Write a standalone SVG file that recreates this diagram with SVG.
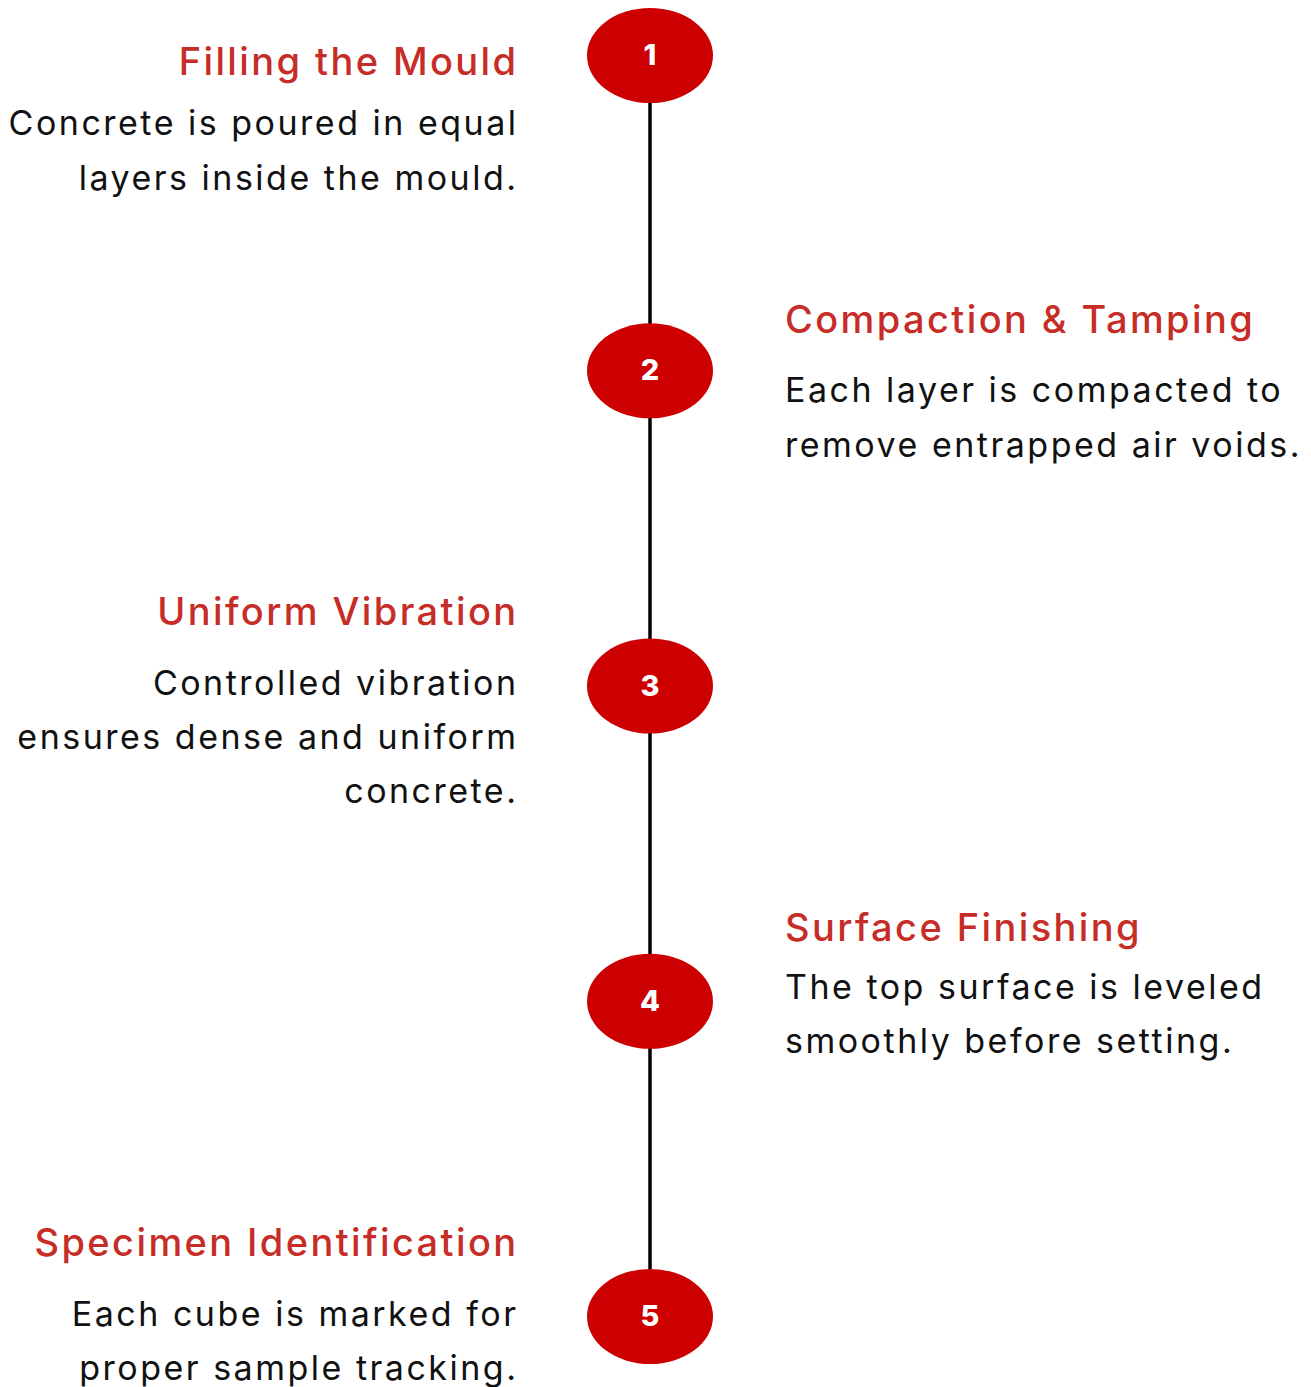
<svg xmlns="http://www.w3.org/2000/svg" width="1311" height="1387" viewBox="0 0 1311 1387">
<style>
.title{font-family:Inter,"Liberation Sans",sans-serif;font-size:38px;font-weight:500;fill:#c62d27;letter-spacing:2.4px}
.body{font-family:Inter,"Liberation Sans",sans-serif;font-size:34px;font-weight:400;fill:#111;letter-spacing:2.5px}
.l{text-anchor:end}
.num{font-family:Inter,"Liberation Sans",sans-serif;font-size:29px;font-weight:800;fill:#fff;text-anchor:middle}
.dot{fill:#cc0000}
</style>
<rect width="1311" height="1387" fill="#fff"/>
<g id="connectors">
<line x1="650" y1="100" x2="650" y2="1272" stroke="#000" stroke-width="3.5"/>
</g>
<g id="step1">
<ellipse class="dot" cx="650" cy="55.5" rx="63" ry="47.5"/>
<text class="num" x="650" y="65">1</text>
<text class="title l" x="518.5" y="75">Filling the Mould</text>
<text class="body l" x="518.5" y="135">Concrete is poured in equal</text>
<text class="body l" x="518.5" y="190">layers inside the mould.</text>
</g>
<g id="step2">
<ellipse class="dot" cx="650" cy="370.8" rx="63" ry="47.5"/>
<text class="num" x="650" y="380">2</text>
<text class="title" x="785" y="333">Compaction &amp; Tamping</text>
<text class="body" x="785" y="402">Each layer is compacted to</text>
<text class="body" x="785" y="457">remove entrapped air voids.</text>
</g>
<g id="step3">
<ellipse class="dot" cx="650" cy="686" rx="63" ry="47.5"/>
<text class="num" x="650" y="696">3</text>
<text class="title l" x="518.5" y="625">Uniform Vibration</text>
<text class="body l" x="518.5" y="695">Controlled vibration</text>
<text class="body l" x="518.5" y="749">ensures dense and uniform</text>
<text class="body l" x="518.5" y="803">concrete.</text>
</g>
<g id="step4">
<ellipse class="dot" cx="650" cy="1001.3" rx="63" ry="47.5"/>
<text class="num" x="650" y="1011">4</text>
<text class="title" x="785" y="941">Surface Finishing</text>
<text class="body" x="785" y="999">The top surface is leveled</text>
<text class="body" x="785" y="1053">smoothly before setting.</text>
</g>
<g id="step5">
<ellipse class="dot" cx="650" cy="1316.5" rx="63" ry="47.5"/>
<text class="num" x="650" y="1326">5</text>
<text class="title l" x="518.5" y="1256">Specimen Identification</text>
<text class="body l" x="518.5" y="1326">Each cube is marked for</text>
<text class="body l" x="518.5" y="1380">proper sample tracking.</text>
</g>
</svg>
